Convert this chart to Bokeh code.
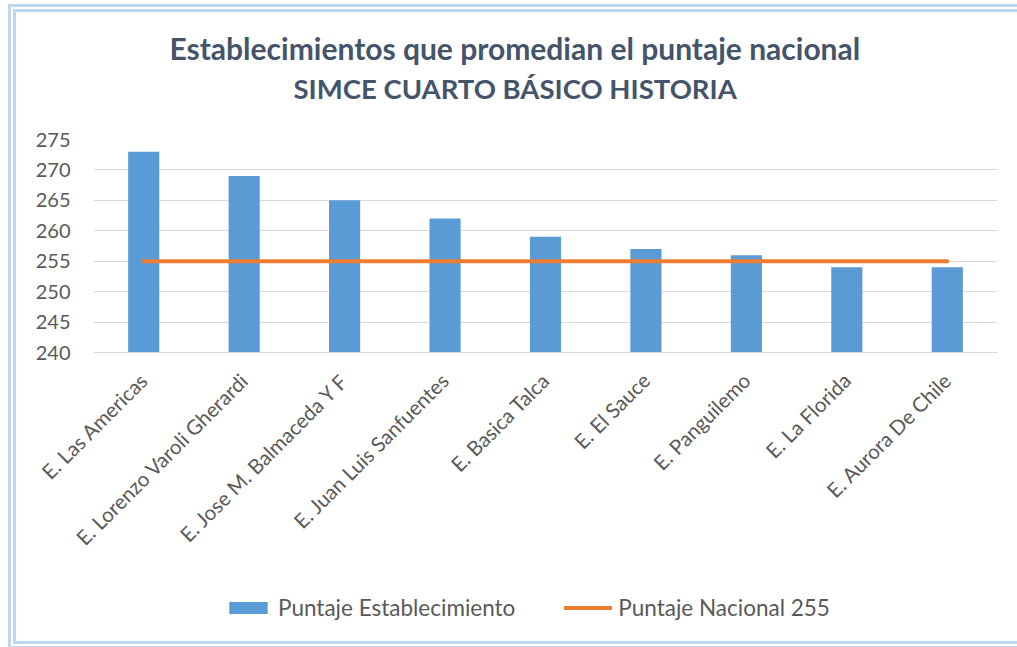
import math
from bokeh.plotting import figure
from bokeh.layouts import column
from bokeh.models import FactorRange, Range1d, Legend, LegendItem, FixedTicker
from bokeh.core.properties import value
from bokeh.embed import file_html
from bokeh.resources import INLINE

categorias = ["E. Las Americas", "E. Lorenzo Varoli Gherardi", "E. Jose M. Balmaceda Y F",
              "E. Juan Luis Sanfuentes", "E. Basica Talca", "E. El Sauce",
              "E. Panguilemo", "E. La Florida", "E. Aurora De Chile"]
puntaje_establecimiento = [273, 269, 265, 262, 259, 257, 256, 254, 254]
puntaje_nacional = [255, 255, 255, 255, 255, 255, 255, 255, 255]
y_ticks = [240, 245, 250, 255, 260, 265, 270, 275]
titulo_1 = "Establecimientos que promedian  el puntaje nacional"
titulo_2 = "SIMCE CUARTO  BÁSICO HISTORIA"
serie_1 = "Puntaje Establecimiento"
serie_2 = "Puntaje Nacional 255"

FONT = "Lato"
GRAY = "#595959"
TITLE_COLOR = "#44546A"
BAR_COLOR = "#5B9BD5"
LINE_COLOR = "#ED7D31"

W = 1001
MB_LEFT = 77
MB_RIGHT = 20
FRAME_X0 = 16 + MB_LEFT          # page x of plot frame left
FRAME_X1 = 16 + W - MB_RIGHT     # page x of plot frame right


def blank(height, y0, y1):
    f = figure(width=W, height=height, x_range=Range1d(FRAME_X0, FRAME_X1),
               y_range=Range1d(y0, y1),
               output_backend="svg", toolbar_location=None,
               x_axis_location=None, y_axis_location=None,
               min_border_left=MB_LEFT, min_border_right=MB_RIGHT,
               min_border_top=0, min_border_bottom=0)
    f.grid.visible = False
    f.outline_line_color = None
    return f


# ---- title block (coordinates are page pixels) ----
p_title = blank(103, 115, 12)
p_title.text(x=[518], y=[47], text=[titulo_1], text_font=value(FONT), text_font_size="30px",
             text_font_style="bold", text_color=TITLE_COLOR, text_align="center",
             text_baseline="middle")
p_title.text(x=[518], y=[88], text=[titulo_2], text_font=value(FONT), text_font_size="27.5px",
             text_font_style="bold", text_color=TITLE_COLOR, text_align="center",
             text_baseline="middle")

# ---- main chart ----
p = figure(x_range=FactorRange(*categorias), y_range=Range1d(240, 275),
           width=W, height=467, output_backend="svg", toolbar_location=None,
           min_border_left=MB_LEFT, min_border_right=MB_RIGHT,
           min_border_top=24, min_border_bottom=230)

bars = p.vbar(x=categorias, top=puntaje_establecimiento, bottom=240, width=0.31,
              fill_color=BAR_COLOR, line_color=None)
line = p.line(x=categorias, y=puntaje_nacional, line_color=LINE_COLOR, line_width=4,
              line_cap="round")

p.outline_line_color = None
p.xgrid.visible = False
p.ygrid.grid_line_color = "#D9D9D9"
p.ygrid.grid_line_width = 1

p.yaxis.ticker = FixedTicker(ticks=y_ticks)
p.yaxis.axis_line_color = None
p.yaxis.major_tick_line_color = None
p.yaxis.minor_tick_line_color = None
p.yaxis.major_label_text_font = FONT
p.yaxis.major_label_text_font_size = "20px"
p.yaxis.major_label_text_color = GRAY
p.yaxis.major_label_standoff = 17

p.xaxis.axis_line_color = "#D9D9D9"
p.xaxis.major_tick_line_color = None
p.xaxis.minor_tick_line_color = None
p.xaxis.major_label_orientation = math.pi / 4
p.xaxis.major_label_text_font = FONT
p.xaxis.major_label_text_font_size = "20.5px"
p.xaxis.major_label_text_color = GRAY
p.xaxis.major_label_standoff = 18

# ---- legend block (legend swatches drawn by Bokeh's Legend; proxy renderers sit off-view) ----
p_leg = blank(59, 641, 582)
leg_bar = p_leg.vbar(x=[0], top=[0], bottom=[0], width=1, fill_color=BAR_COLOR, line_color=None)
leg_line = p_leg.line(x=[0, 0], y=[0, 0], line_color=LINE_COLOR, line_width=4, line_cap="round")
legend = Legend(items=[LegendItem(label=serie_1, renderers=[leg_bar]),
                       LegendItem(label=serie_2, renderers=[leg_line])],
                orientation="horizontal", location=(131, 20),
                label_text_font=FONT, label_text_font_size="22.5px", label_text_color=GRAY,
                glyph_width=48, glyph_height=15, label_standoff=6, spacing=49,
                border_line_color=None, background_fill_color=None, margin=0, padding=4)
p_leg.add_layout(legend, "center")

layout = column(p_title, p, p_leg, spacing=0, margin=(12, 0, 0, 16),
                styles={"outline": "8px double #BDD7EE", "outline-offset": "0px"})

open("out.html", "w").write(file_html(layout, INLINE))
